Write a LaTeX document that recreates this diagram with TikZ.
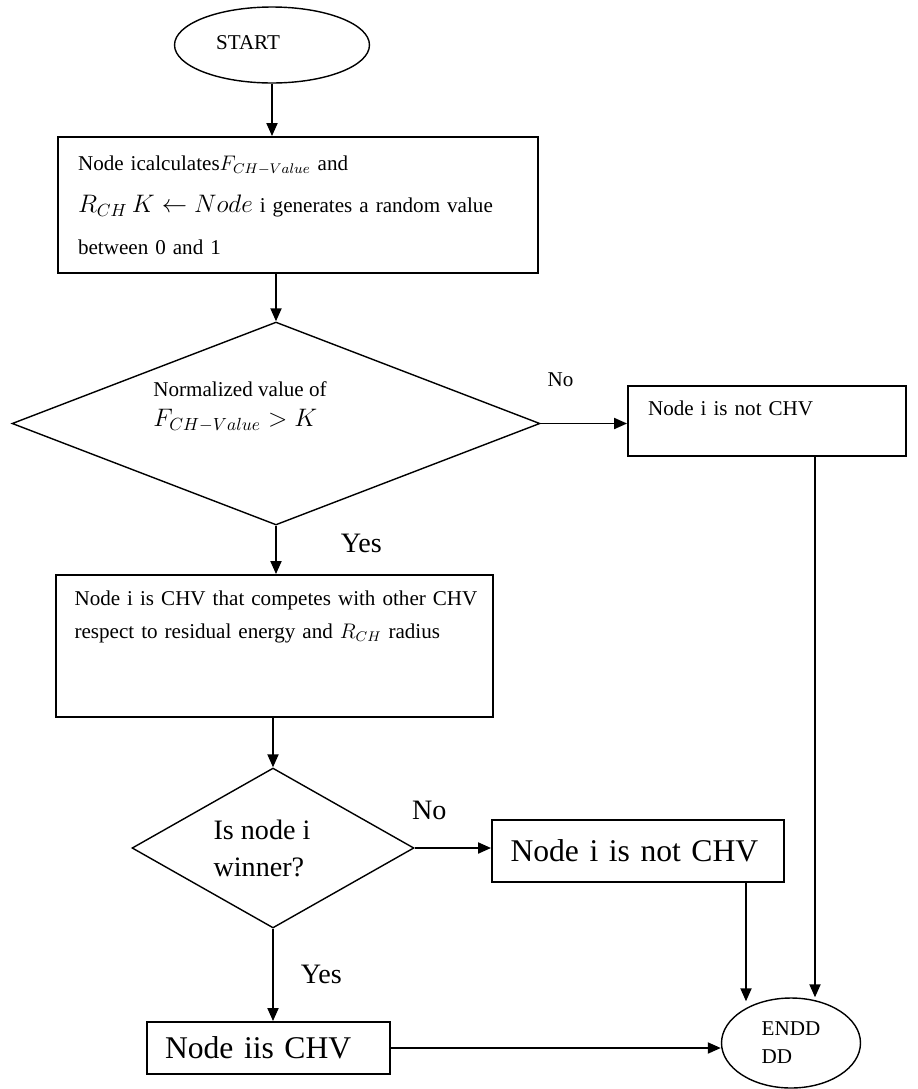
\documentclass[tikz,border=0pt]{standalone}
\usepackage{fontspec}
\setmainfont{Liberation Serif}
\usepackage{tikz}
\usetikzlibrary{positioning,shapes.geometric,arrows.meta,calc}
\tikzset{
  box/.style={draw,line width=1.1pt,inner sep=0pt,align=left,font=\fontsize{12}{14}\selectfont},
  term/.style={draw,ellipse,line width=0.8pt,inner sep=0pt,font=\fontsize{12}{14}\selectfont},
  decision/.style={draw,diamond,line width=0.8pt,inner sep=0pt},
  arr/.style={-{Triangle[length=0.26cm,width=0.22cm]},line width=1.1pt},
  lbl/.style={inner sep=0pt,font=\fontsize{16}{19}\selectfont},
  big/.style={font=\fontsize{18}{21}\selectfont}
}
\begin{document}
\begin{tikzpicture}[x=0.02cm,y=-0.02cm]
\useasboundingbox (0,0) rectangle (917,1089);
\coordinate (rx) at (815,0);
\coordinate (mx) at (746,0);
\node[term,minimum width=3.9cm,minimum height=1.52cm] (start) at (272,45) {\raisebox{0.1cm}{START}\hspace{0.96cm}\null};
\node[box,minimum width=9.6cm,minimum height=2.72cm,text width=8.8cm,font=\fontsize{12}{23.8}\selectfont] (calc) at (298,205)
  {Node icalculates{\large$F_{CH-Value}$} and\\ \mbox{{\Large$R_{CH}\,K \leftarrow Node$} i generates a random value}\\ between 0 and 1};
\node[decision,minimum width=10.56cm,minimum height=4.06cm] (norm) at (276,423.5) {};
\node[inner sep=0pt,anchor=west,align=left,font=\fontsize{12}{17}\selectfont] (normtxt) at (153,407)
  {Normalized value of\\ {\Large$F_{CH-Value} > K$}};
\node[box,minimum width=5.56cm,minimum height=1.4cm,text width=4.76cm,text depth=0.5cm] (notch1) at (767,421) {Node i is not CHV};
\node[box,minimum width=8.74cm,minimum height=2.84cm,text width=8cm,text depth=1.9cm,font=\fontsize{12}{18.7}\selectfont] (compete) at (274.5,646)
  {\mbox{Node i is CHV that competes with other CHV}\\ respect to residual energy and {\large$R_{CH}$} radius};
\node[decision,aspect=1.76,minimum width=5.64cm,minimum height=3.2cm,align=left,font=\fontsize{16}{21}\selectfont] (win) at (273,848) {Is node i\hspace{0.44cm}\null\\winner?};
\node[box,big,minimum width=5.84cm,minimum height=1.24cm,text width=5.1cm] (notch2) at (638,851) {Node i is not CHV};
\node[box,big,minimum width=4.86cm,minimum height=1.04cm,text width=4.14cm] (isch) at (268.5,1048) {Node iis CHV};
\node[term,minimum width=2.78cm,minimum height=1.8cm,align=left,font=\fontsize{12}{16}\selectfont] (end) at (791,1043) {ENDD\\DD};
\draw[arr] (start.south) -- (start.south |- calc.north);
\draw[arr] (norm.north |- calc.south) -- (norm.north);
\draw[arr] (norm.east) -- (norm.east -| notch1.west) node[lbl,pos=0.23,above=0.72cm,font=\fontsize{12}{14}\selectfont]{No};
\draw[arr] (norm.south) -- (norm.south |- compete.north) node[lbl,pos=0.36,right=1.28cm]{Yes};
\draw[arr] (win.north |- compete.south) -- (win.north);
\draw[arr] (win.east) -- (win.east -| notch2.west) node[lbl,pos=0.19,above=0.54cm]{No};
\draw[arr] (win.south) -- (win.south |- isch.north) node[lbl,midway,right=0.54cm]{Yes};
\draw[arr] (isch.east) -- (isch.east -| end.west);
\draw[arr] (notch1.south -| rx) -- (rx |- end.north);
\draw[arr] (notch2.south -| mx) -- ($(mx |- end.north)+(0,4)$);
\end{tikzpicture}
\end{document}
